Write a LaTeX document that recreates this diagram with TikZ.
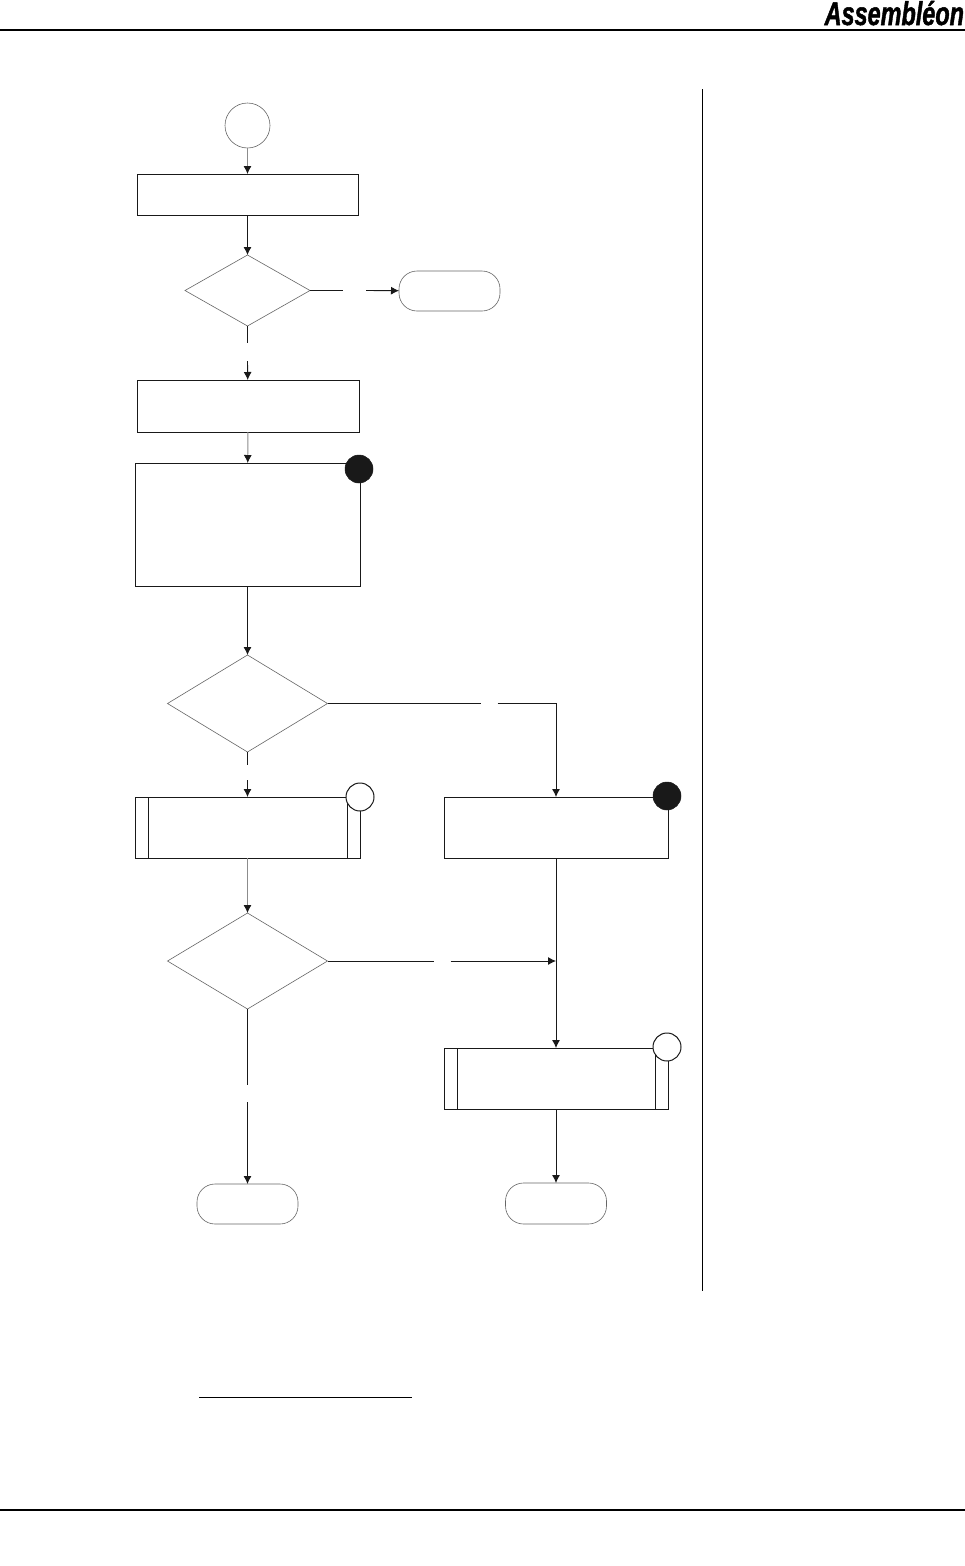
\documentclass[tikz,border=0pt]{standalone}
\usepackage{fontspec}
\setmainfont{Liberation Sans}
\newfontfamily\logofont[UprightFont=* Bold Italic,FakeBold=1.6]{Liberation Sans}
\usetikzlibrary{shapes.geometric,arrows.meta,positioning}
\tikzset{
  every node/.style={outer sep=0pt, inner sep=0pt},
  stepbox/.style={rectangle, draw=black!90, line width=0.9pt, fill=white,
                  minimum width=225pt, minimum height=61pt},
  predbox/.style={stepbox},
  terminal/.style={rectangle, rounded corners=18pt, draw=black!60, line width=0.6pt,
                   minimum width=101pt, minimum height=40pt},
  decision/.style={diamond, draw=black!60, line width=0.6pt},
  startnode/.style={circle, draw=black!60, line width=0.6pt, minimum size=45pt},
  markopen/.style={circle, draw=black!90, line width=1pt, fill=white, minimum size=28pt},
  markfull/.style={circle, draw=black!90, line width=0.5pt, fill=black!90, minimum size=28pt},
  arr/.style={-{Latex[length=8pt,width=8pt]}, line width=0.9pt, draw=black!90},
  arrgrey/.style={arr, draw=black!45, -{Latex[length=8pt,width=8pt,black!90]}},
  plain/.style={line width=0.9pt, draw=black!90}
}
\begin{document}
\begin{tikzpicture}[x=1pt,y=-1pt]
  \path[use as bounding box, fill=white] (0,0) rectangle (965,1566);

  % left column
  \node[startnode] (start) at (247.5,125.5) {};
  \node[stepbox, minimum width=221pt, minimum height=41pt, below=26pt of start] (setup) {};
  \node[decision, minimum width=125pt, minimum height=71pt, below=40pt of setup] (ask1) {};
  \node[stepbox, minimum width=222pt, minimum height=52pt, below=54pt of ask1, xshift=0.5pt] (prep) {};
  \node[stepbox, minimum height=123pt, below=31pt of prep, xshift=-0.5pt] (work) {};
  \node[decision, minimum width=160pt, minimum height=97pt, below=69pt of work] (ask2) {};
  \node[predbox, below=45pt of ask2] (subA) {};
  \node[decision, minimum width=160pt, minimum height=96pt, below=55pt of subA] (ask3) {};
  \node[terminal, below=175pt of ask3] (endA) {};

  % right column
  \node[terminal, right=89pt of ask1, yshift=-0.5pt] (endX) {};
  \node[stepbox, minimum width=224pt, right=84pt of subA] (fix) {};
  \node[predbox, minimum width=224pt, below=190pt of fix] (subB) {};
  \node[terminal, minimum height=41pt, below=74pt of subB] (endB) {};

  % inner bars of the sub process boxes
  \foreach \p in {subA, subB}{
    \draw[plain] ([xshift=13pt]\p.north west) -- ([xshift=13pt]\p.south west);
    \draw[plain] ([xshift=-13pt]\p.north east) -- ([xshift=-13pt]\p.south east);
  }

  % corner marks
  \node[markfull] (mark1) at ([shift={(-1pt,-6pt)}]work.north east) {};
  \node[markopen] (mark2) at (subA.north east) {};
  \node[markfull] (mark3) at ([shift={(-1pt,1pt)}]fix.north east) {};
  \node[markopen] (mark4) at ([shift={(-1pt,1pt)}]subB.north east) {};

  % free ends either side of the gaps
  \coordinate (gapa1) at ([xshift=33pt]ask1.east);
  \coordinate (gapa2) at ([xshift=56pt]ask1.east);
  \coordinate (gapb1) at ([yshift=-17pt]ask1.south);
  \coordinate (gapb2) at ([yshift=-35pt]ask1.south);
  \coordinate (gapc1) at ([xshift=153pt]ask2.east);
  \coordinate (gapc2) at ([xshift=170pt]ask2.east);
  \coordinate (gapd1) at ([yshift=-13pt]ask2.south);
  \coordinate (gapd2) at ([yshift=-28pt]ask2.south);
  \coordinate (gape1) at ([xshift=106pt]ask3.east);
  \coordinate (gape2) at ([xshift=123pt]ask3.east);
  \coordinate (gapf1) at ([yshift=-76pt]ask3.south);
  \coordinate (gapf2) at ([yshift=-93pt]ask3.south);
  \coordinate (merge) at (fix.south |- ask3.east);

  % connectors
  \draw[arrgrey] (start) -- (setup);
  \draw[arr] (setup) -- (ask1);
  \draw[plain] (ask1.east) -- (gapa1);
  \draw[arr] (gapa2) -- (endX);
  \draw[plain] (ask1.south) -- (gapb1);
  \draw[arr] (gapb2) -- (prep);
  \draw[arrgrey] (prep) -- (work);
  \draw[arr] (work) -- (ask2);
  \draw[plain] (ask2.east) -- (gapc1);
  \draw[arr] (gapc2) -| (fix.north);
  \draw[plain] (ask2.south) -- (gapd1);
  \draw[arr] (gapd2) -- (subA);
  \draw[arrgrey] (subA) -- (ask3);
  \draw[plain] (ask3.east) -- (gape1);
  \draw[arr] (gape2) -- (merge);
  \draw[plain] (ask3.south) -- (gapf1);
  \draw[arr] (gapf2) -- (endA);
  \draw[arr] (fix) -- (subB);
  \draw[arr] (subB) -- (endB);

  % page furniture
  \draw[line width=1.6pt] (0,30) -- (965,30);
  \draw[line width=1.6pt] (0,1510) -- (965,1510);
  \draw[line width=0.9pt] (702.5,89) -- (702.5,1291);
  \draw[line width=0.9pt] (199,1397) -- (412,1397);
  \node[anchor=base east, font=\logofont\fontsize{33}{33}\selectfont] (logo) at (964,25)
    {\scalebox{0.71}[1]{Assembléon}};
\end{tikzpicture}
\end{document}
